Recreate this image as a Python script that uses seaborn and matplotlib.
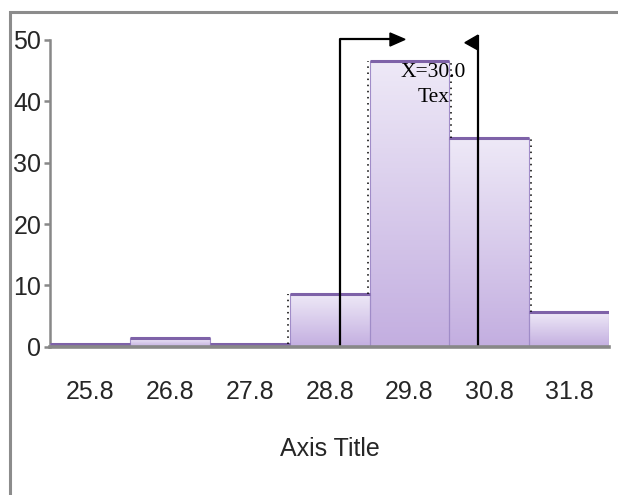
import numpy as np
import matplotlib
matplotlib.use("Agg")
import matplotlib.pyplot as plt
from matplotlib.colors import LinearSegmentedColormap
from matplotlib.patches import Rectangle, Polygon
from matplotlib import font_manager
import seaborn as sns

# Histogram data: bin centres and bar heights
bin_centers = [25.8, 26.8, 27.8, 28.8, 29.8, 30.8, 31.8]
bar_heights = [0.45, 1.4, 0.45, 8.6, 46.5, 34.0, 5.6]
tick_labels = ["25.8", "26.8", "27.8", "28.8", "29.8", "30.8", "31.8"]
y_ticks = [0, 10, 20, 30, 40, 50]

# Specification markers
lower_limit = 28.93
upper_limit = 30.66
marker_text = "X=30.0"
marker_sub = "Tex"
x_title = "Axis Title"

sns.set_style("white")

# pick a narrow sans face when one is available
installed = {f.name for f in font_manager.fontManager.ttflist}
narrow_candidates = ["Liberation Sans Narrow", "DejaVu Sans Condensed", "Liberation Sans"]
narrow = [n for n in narrow_candidates if n in installed] + ["DejaVu Sans"]
serif = ["Liberation Serif", "DejaVu Serif"]
label_font = dict(family=narrow, fontsize=18, fontstretch="condensed")

fig = plt.figure(figsize=(6.18, 4.95), dpi=100)
ax = fig.add_axes([0.0816, 0.2996, 0.9037, 0.6196])

bin_width = 1.0
edges = [c - bin_width / 2 for c in bin_centers] + [bin_centers[-1] + bin_width / 2]

sns.histplot(x=bin_centers, weights=bar_heights, bins=edges, ax=ax,
             stat="count", element="bars", fill=True, legend=False)

grad_cmap = LinearSegmentedColormap.from_list("lav", ["#C3AEE0", "#EEE9F7"])
grad = np.linspace(0, 1, 256).reshape(-1, 1)

for patch in list(ax.patches):
    x0, w, h = patch.get_x(), patch.get_width(), patch.get_height()
    patch.set_facecolor("none")
    patch.set_edgecolor("#A08CC8")
    patch.set_linewidth(0.8)
    patch.set_zorder(3)
    im = ax.imshow(grad, extent=[x0, x0 + w, 0, h], origin="lower",
                   aspect="auto", cmap=grad_cmap, zorder=2, interpolation="bilinear")
    im.set_clip_path(patch)

# thick top edge of every bar
ax.hlines(bar_heights, edges[:-1], edges[1:], colors="#7E62A8", linewidth=2.2, zorder=4)

# dotted step outline between neighbouring bars
for i in range(len(bar_heights) - 1):
    a, b = bar_heights[i], bar_heights[i + 1]
    if abs(a - b) < 2:
        continue
    xb = edges[i + 1] + (-0.018 if b > a else 0.022)
    ax.vlines(xb, min(a, b), max(a, b), colors="black", linewidth=1.1,
              linestyles=(0, (1, 3)), zorder=5)

# lower limit line with right-pointing arrow
top_l = 50.1
ax.plot([lower_limit, lower_limit, 29.56], [0, top_l, top_l], color="black",
        linewidth=1.6, zorder=6, clip_on=False, solid_capstyle="butt")
ax.add_patch(Polygon([[29.556, 51.14], [29.744, top_l], [29.556, 49.02]],
                     closed=True, color="black", zorder=6, clip_on=False))

# upper limit line with left-pointing arrow
top_u = 50.8
ax.plot([upper_limit, upper_limit], [0, top_u], color="black", linewidth=1.6,
        zorder=6, clip_on=False, solid_capstyle="butt")
ax.add_patch(Polygon([[upper_limit, top_u], [upper_limit - 0.165, 49.56], [upper_limit, 48.37]],
                     closed=True, color="black", zorder=6, clip_on=False))

ax.text(29.69, 43.97, marker_text, family=serif, fontsize=15.5, ha="left",
        va="baseline", color="black", zorder=7)
ax.text(30.30, 39.94, marker_sub, family=serif, fontsize=15.5, ha="right",
        va="baseline", color="black", zorder=7)

ax.set_xlim(edges[0], edges[-1])
ax.set_ylim(0, 50)
ax.set_xticks(bin_centers)
ax.set_xticklabels(tick_labels, **label_font)
ax.set_yticks(y_ticks)
ax.set_yticklabels([str(v) for v in y_ticks], **label_font)
ax.set_ylabel("")
ax.set_xlabel(x_title, **label_font)
ax.xaxis.set_label_coords(0.5, -0.295)

ax.tick_params(axis="x", length=0, pad=24)
ax.tick_params(axis="y", length=4.5, width=1.8, color="#888888", pad=2, left=True)

for side in ["top", "right"]:
    ax.spines[side].set_visible(False)
ax.spines["left"].set_color("#888888")
ax.spines["left"].set_linewidth(1.8)
ax.spines["bottom"].set_color("#888888")
ax.spines["bottom"].set_linewidth(2.6)
ax.spines["bottom"].set_zorder(8)

# outer chart frame
fig.patches.append(Rectangle((9.5 / 618, -0.2), 1.2, 1.2 - 11.5 / 495,
                             transform=fig.transFigure, fill=False,
                             edgecolor="#8C8C8C", linewidth=2.2, zorder=0))

fig.savefig("out.png", dpi=100)
